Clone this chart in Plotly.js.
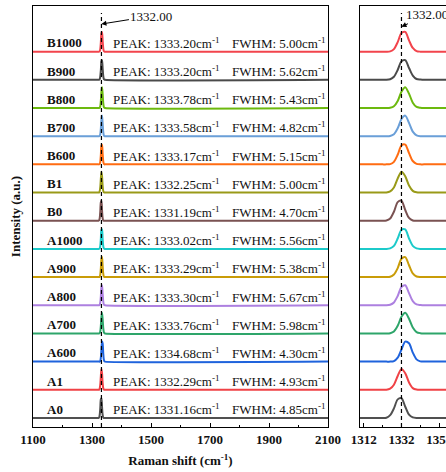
<!DOCTYPE html>
<html>
<head>
<meta charset="utf-8">
<script src="https://cdn.plot.ly/plotly-3.0.1.min.js"></script>
<style>
html,body{margin:0;padding:0;overflow:hidden;background:#fff;}
#chart{width:480px;height:472px;}
</style>
</head>
<body>
<div id="chart"></div>
<script>
// Raman shift grid (cm-1)
const ramanShift = [1100, 1320, 1322, 1324, 1326, 1328, 1330, 1332, 1334, 1336, 1338, 1340, 1342, 1344, 2100];

// Samples, bottom to top
const samples = ["A0", "A1", "A600", "A700", "A800", "A900", "A1000", "B0", "B1", "B600", "B700", "B800", "B900", "B1000"];
const peakPos = [1331.16, 1332.29, 1334.68, 1333.76, 1333.30, 1333.29, 1333.02, 1331.19, 1332.25, 1333.17, 1333.58, 1333.78, 1333.20, 1333.20];
const fwhm    = [4.85, 4.93, 4.30, 5.98, 5.67, 5.38, 5.56, 4.70, 5.00, 5.15, 4.82, 5.43, 5.62, 5.00];
const colors  = ["#505050", "#f04246", "#1f63dc", "#2ea56a", "#ad80e0", "#c99c08", "#1ccaca", "#7a5252", "#999a18", "#ff6c12", "#6a9fd8", "#6cb90e", "#4a4a4a", "#f2444c"];

// Intensities (a.u.) on the grid above
const intA0    = [0,0,0,0.01,0.10,0.34,0.66,0.70,0.40,0.12,0.02,0,0,0,0];
const intA1    = [0,0,0,0,0.04,0.18,0.49,0.74,0.59,0.26,0.06,0.01,0,0,0];
const intA600  = [0,0,0,0,0,0.02,0.14,0.43,0.71,0.65,0.32,0.08,0.01,0,0];
const intA700  = [0,0,0,0,0.01,0.07,0.27,0.59,0.73,0.52,0.21,0.05,0.01,0,0];
const intA800  = [0,0,0,0,0.02,0.10,0.33,0.65,0.71,0.43,0.15,0.03,0.01,0,0];
const intA900  = [0,0,0,0,0.01,0.09,0.32,0.65,0.71,0.42,0.13,0.02,0,0,0];
const intA1000 = [0,0,0,0,0.02,0.11,0.37,0.68,0.69,0.37,0.11,0.02,0,0,0];
const intB0    = [0,0,0,0.01,0.08,0.32,0.66,0.71,0.38,0.10,0.01,0,0,0,0];
const intB1    = [0,0,0,0,0.04,0.18,0.50,0.74,0.58,0.25,0.06,0.01,0,0,0];
const intB600  = [0,0,0,0,0.01,0.09,0.34,0.67,0.70,0.40,0.12,0.02,0,0,0];
const intB700  = [0,0,0,0,0.01,0.07,0.28,0.61,0.73,0.47,0.16,0.03,0,0,0];
const intB800  = [0,0,0,0,0.01,0.06,0.25,0.58,0.74,0.51,0.19,0.04,0.01,0,0];
const intB900  = [0,0,0,0,0.02,0.11,0.35,0.66,0.70,0.42,0.15,0.03,0.01,0,0];
const intB1000 = [0,0,0,0,0.01,0.09,0.34,0.66,0.70,0.40,0.13,0.02,0,0,0];

const intensities = [intA0, intA1, intA600, intA700, intA800, intA900, intA1000, intB0, intB1, intB600, intB700, intB800, intB900, intB1000];
const stackStep = 1.0;
const refPeak = 1332.00;

const serif = "Liberation Serif, Times New Roman, serif";
const yRange = [-0.32, 14.62];

const traces = [];
intensities.forEach((arr, i) => {
  const yy = arr.map(v => v + i * stackStep);
  ["x", "x2"].forEach((xa, k) => {
    traces.push({
      x: ramanShift, y: yy, type: "scatter", mode: "lines",
      xaxis: xa, yaxis: k === 0 ? "y" : "y2",
      line: {color: colors[i], width: 2, shape: "spline", smoothing: 0.8},
      showlegend: false, hoverinfo: "skip"
    });
  });
});

const annotations = [];
samples.forEach((s, i) => {
  const yl = i * stackStep + 0.31;
  annotations.push({xref: "x", yref: "y", x: 1140, y: yl, xanchor: "left", yanchor: "middle",
    text: "<b>" + s + "</b>", showarrow: false, font: {family: serif, size: 13, color: "#111"}});
  annotations.push({xref: "x", yref: "y", x: 1364, y: yl, xanchor: "left", yanchor: "middle",
    text: "PEAK: " + peakPos[i].toFixed(2) + "cm<sup>-1</sup>", showarrow: false, font: {family: serif, size: 13, color: "#111"}});
  annotations.push({xref: "x", yref: "y", x: 1768, y: yl, xanchor: "left", yanchor: "middle",
    text: "FWHM: " + fwhm[i].toFixed(2) + "cm<sup>-1</sup>", showarrow: false, font: {family: serif, size: 13, color: "#111"}});
});
annotations.push({xref: "x", yref: "y", x: refPeak, y: 13.98, ax: 50, ay: -8,
  text: refPeak.toFixed(2), showarrow: true, arrowhead: 2, arrowsize: 1, arrowwidth: 1, arrowcolor: "#000",
  font: {family: serif, size: 13, color: "#111"}});
annotations.push({xref: "x2", yref: "y2", x: refPeak, y: 13.885, ax: 26, ay: -12,
  text: refPeak.toFixed(2), showarrow: true, arrowhead: 2, arrowsize: 1, arrowwidth: 1, arrowcolor: "#000",
  font: {family: serif, size: 13, color: "#111"}});

const shapes = [
  {type: "line", xref: "x", yref: "y", x0: refPeak, x1: refPeak, y0: yRange[0], y1: 14.37, layer: "above",
   line: {color: "#000", width: 1.2, dash: "4px,3px"}},
  {type: "line", xref: "x2", yref: "y2", x0: refPeak, x1: refPeak, y0: yRange[0], y1: 14.37, layer: "above",
   line: {color: "#000", width: 1.2, dash: "4px,3px"}}
];

const axisCommon = {
  showline: true, mirror: true, linecolor: "#000", linewidth: 1.3,
  showgrid: false, zeroline: false, ticks: "inside", ticklen: 4, tickwidth: 1, tickcolor: "#000",
  tickfont: {family: serif, size: 13, color: "#111", weight: "bold"}
};

const W = 480, H = 472, ml = 33, mr = 0;
const pw = W - ml - mr;
const layout = {
  width: W, height: H,
  margin: {l: ml, r: mr, t: 6, b: 45},
  paper_bgcolor: "#fff", plot_bgcolor: "#fff",
  xaxis: Object.assign({}, axisCommon, {
    domain: [0, 295 / pw], range: [1100, 2100], tick0: 1100, dtick: 200,
    minor: {ticks: "inside", ticklen: 2, dtick: 100, tick0: 1100, tickcolor: "#000", tickwidth: 1},
    title: {text: "<b>Raman shift (cm<sup>-1</sup>)</b>", font: {family: serif, size: 13, color: "#111"}, standoff: 10}
  }),
  yaxis: Object.assign({}, axisCommon, {
    domain: [0, 1], range: yRange, showticklabels: false, ticks: "",
    title: {text: "<b>Intensity (a.u.)</b>", font: {family: serif, size: 13, color: "#111"}, standoff: 8}
  }),
  xaxis2: Object.assign({}, axisCommon, {
    anchor: "y2", domain: [327 / pw, 1], range: [1310, 1310 + 120 / 1.885], tick0: 1312, dtick: 20,
    minor: {ticks: "inside", ticklen: 2, dtick: 10, tick0: 1312, tickcolor: "#000", tickwidth: 1}
  }),
  yaxis2: Object.assign({}, axisCommon, {
    anchor: "x2", domain: [0, 1], range: yRange, showticklabels: false, ticks: ""
  }),
  annotations: annotations,
  shapes: shapes
};

Plotly.newPlot("chart", traces, layout, {displayModeBar: false, staticPlot: true});
</script>
</body>
</html>
